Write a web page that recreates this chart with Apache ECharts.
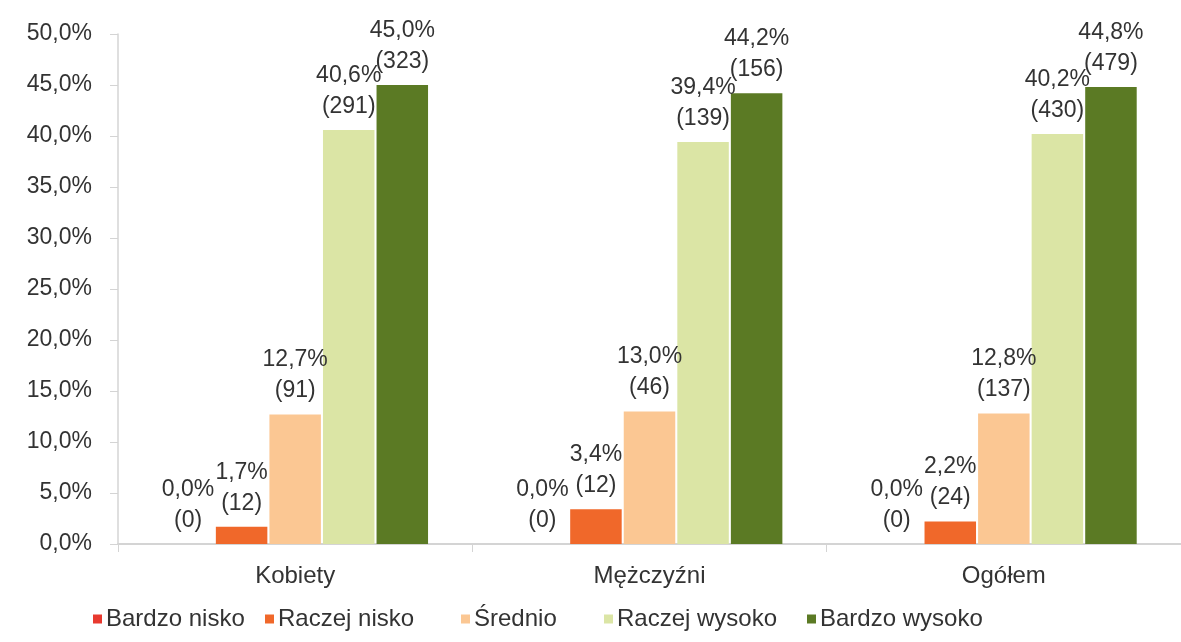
<!DOCTYPE html>
<html>
<head>
<meta charset="utf-8">
<script src="https://cdn.jsdelivr.net/npm/echarts@6/dist/echarts.min.js"></script>
<style>
  html, body { margin: 0; padding: 0; background: #fff; }
  #chart { width: 1181px; height: 642px; }
</style>
</head>
<body>
<div id="chart"></div>
<script>
  // kategorie i serie
  var categories = ['Kobiety', 'Mężczyźni', 'Ogółem'];
  var seriesNames = ['Bardzo nisko', 'Raczej nisko', 'Średnio', 'Raczej wysoko', 'Bardzo wysoko'];
  var colors = ['#e8392f', '#f0682a', '#fbc793', '#dbe5a5', '#5b7a24'];

  // procenty
  var bardzoNisko = [0.0, 0.0, 0.0];
  var raczejNisko = [1.7, 3.4, 2.2];
  var srednio = [12.7, 13.0, 12.8];
  var raczejWysoko = [40.6, 39.4, 40.2];
  var bardzoWysoko = [45.0, 44.2, 44.8];

  // liczebności
  var nBardzoNisko = [0, 0, 0];
  var nRaczejNisko = [12, 12, 24];
  var nSrednio = [91, 46, 137];
  var nRaczejWysoko = [291, 139, 430];
  var nBardzoWysoko = [323, 156, 479];

  var yTicks = [0, 5, 10, 15, 20, 25, 30, 35, 40, 45, 50];

  var pcts = [bardzoNisko, raczejNisko, srednio, raczejWysoko, bardzoWysoko];
  var counts = [nBardzoNisko, nRaczejNisko, nSrednio, nRaczejWysoko, nBardzoWysoko];

  function fmt(v) {
    return v.toFixed(1).replace('.', ',') + '%';
  }

  var txt = '#333333';
  var font = 'Liberation Sans, Arial, sans-serif';
  var fs = 23;

  var series = seriesNames.map(function (name, i) {
    return {
      name: name,
      type: 'bar',
      data: pcts[i],
      barGap: '4%',
      barCategoryGap: '25%',
      itemStyle: { color: colors[i] },
      label: {
        show: true,
        position: 'top',
        distance: 8,
        color: txt,
        fontFamily: font,
        fontSize: fs,
        lineHeight: 31,
        formatter: function (p) {
          return fmt(p.value) + '\n(' + counts[i][p.dataIndex] + ')';
        }
      }
    };
  });

  // legenda jak w Excelu - nierówne odstępy, więc każdy wpis osobno
  var legendLeft = [93, 265, 461, 604, 807];
  var legends = seriesNames.map(function (name, i) {
    return {
      data: [name],
      left: legendLeft[i],
      top: 607,
      padding: 0,
      icon: 'rect',
      itemWidth: 9,
      itemHeight: 9,
      textStyle: { color: txt, fontFamily: font, fontSize: 24, padding: [0, 0, 0, -1] }
    };
  });

  var chart = echarts.init(document.getElementById('chart'));
  chart.setOption({
    animation: false,
    color: colors,
    grid: { left: 118, right: -9, top: 34, bottom: 98, containLabel: false },
    legend: legends,
    xAxis: {
      type: 'category',
      data: categories,
      axisLine: { lineStyle: { color: '#d4d4d4', width: 2 } },
      axisTick: { show: true, length: 8, lineStyle: { color: '#d4d4d4' } },
      axisLabel: { color: txt, fontFamily: font, fontSize: 24, margin: 20 }
    },
    yAxis: {
      type: 'value',
      min: yTicks[0],
      max: yTicks[yTicks.length - 1],
      interval: 5,
      axisLine: { show: true, lineStyle: { color: '#d4d4d4', width: 1.5 } },
      axisTick: { show: true, length: 8, lineStyle: { color: '#d4d4d4' } },
      splitLine: { show: false },
      axisLabel: {
        color: txt, fontFamily: font, fontSize: fs, margin: 26,
        formatter: function (v) { return fmt(v); }
      }
    },
    series: series
  });
</script>
</body>
</html>
